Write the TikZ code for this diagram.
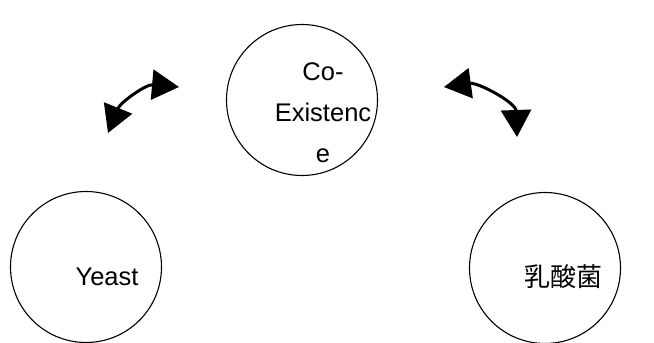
\documentclass[tikz,border=0pt]{standalone}
\usepackage{fontspec}
\setmainfont{Liberation Sans}
\newfontfamily\cjk{Noto Sans CJK JP}
\usetikzlibrary{arrows.meta}
\begin{document}
\begin{tikzpicture}[x=1pt, y=1pt,
    bubble/.style={circle, draw, line width=1.1pt, minimum size=151pt, inner sep=0pt},
    word/.style={font=\fontsize{25.5}{41}\selectfont, align=center, inner sep=0pt},
    swap/.style={line width=3pt, {Triangle[length=27pt,width=30pt]}-{Triangle[length=27pt,width=30pt]}}]
    \useasboundingbox (0,0) rectangle (654,343) ;
    \node [bubble] at (302,243) (E) {} ;
    \node [bubble] at (86,76) (Y) {} ;
    \node [bubble] at (545,75) (L) {} ;
    \node [word] at ([shift={(21,-13)}]E.center) (Etxt) {Co-\\Existenc\\e} ;
    \node [word] at ([shift={(21,-10)}]Y.center) (Ytxt) {Yeast} ;
    \node [word, font=\cjk\fontsize{26}{41}\selectfont] at ([shift={(18,-9)}]L.center) (Ltxt) {乳酸菌} ;
    \coordinate (YE1) at (108,210) ;
    \coordinate (YE2) at (179,256) ;
    \coordinate (EL1) at (444,256) ;
    \coordinate (EL2) at (517,206) ;
    \draw [swap] (YE1) to [out=68, in=175] (YE2) ;
    \draw [swap] (EL1) to [out=8, in=92] (EL2) ;
\end{tikzpicture}
\end{document}
